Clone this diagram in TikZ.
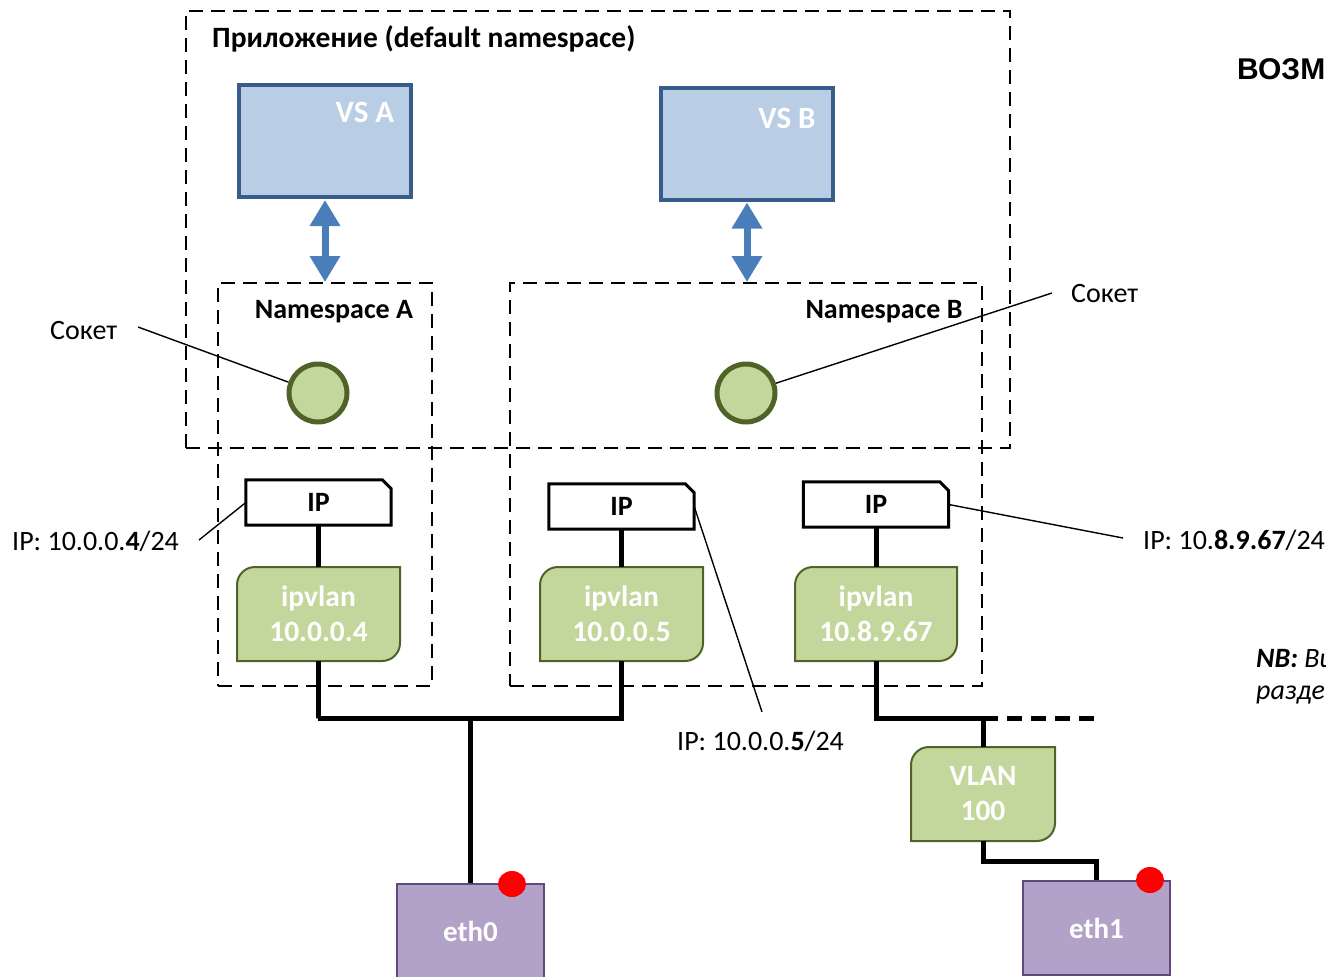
\documentclass[tikz,border=0pt]{standalone}
\usepackage{fontspec}
\setmainfont{Carlito}
\newfontfamily\arialbold{Liberation Sans}
\usetikzlibrary{arrows.meta,calc,shapes.geometric}

\definecolor{vsfill}{HTML}{B9CDE5}
\definecolor{vsedge}{HTML}{385D8A}
\definecolor{duplexblue}{HTML}{4A7EBB}
\definecolor{leaffill}{HTML}{C3D69B}
\definecolor{leafedge}{HTML}{4F6228}
\definecolor{ethfill}{HTML}{B3A2C7}
\definecolor{ethedge}{HTML}{604A7B}

\newcommand{\txt}{\fontsize{28}{34}\selectfont}

% IP box with a snipped top-right corner
\newcommand{\ipshape}[3]{%
  \node[ipbox] (#1) at (#2,#3) {IP};
  \draw[ipedge] (#1.south west) -- (#1.north west) -- ([xshift=-9pt]#1.north east)
    -- ([yshift=-9pt]#1.north east) -- (#1.south east) -- cycle;
}
% green box with rounded top-left and bottom-right corners
\newcommand{\leafshape}[6]{%
  \filldraw[leaf, shift={(#2,#3)}] (-#4,#5) -- (-#4,-#5+18)
    .. controls (-#4,-#5+8) and (-#4+8,-#5) .. (-#4+18,-#5) -- (#4,-#5) -- (#4,#5-18)
    .. controls (#4,#5-8) and (#4-8,#5) .. (#4-18,#5) -- cycle;
  \node[leaftext, minimum width=2*#4, minimum height=2*#5] (#1) at (#2,#3) {#6};
}

\tikzset{
  dashbox/.style={draw, line width=2pt, dash pattern=on 14pt off 8pt, inner sep=0pt},
  vsbox/.style={draw=vsedge, fill=vsfill, line width=4pt, minimum width=172pt, minimum height=112pt, inner sep=0pt},
  vstext/.style={text=white, font=\bfseries\fontsize{31}{36}\selectfont},
  duplex/.style={draw=duplexblue, line width=7pt,
    {Triangle[length=26pt,width=29pt]}-{Triangle[length=26pt,width=29pt]}, shorten <=1pt},
  socket/.style={circle, draw=leafedge, fill=leaffill, line width=5pt, minimum size=58pt, inner sep=0pt},
  ipbox/.style={minimum width=145pt, minimum height=45pt, inner sep=0pt, fill=white, font=\txt\bfseries},
  ipedge/.style={draw, line width=3pt, line join=miter},
  leaf/.style={draw=leafedge, fill=leaffill, line width=2pt},
  leaftext/.style={text=white, font=\bfseries\fontsize{29.5}{35}\selectfont, align=center, inner sep=0pt},
  ethbox/.style={draw=ethedge, fill=ethfill, line width=2pt, minimum width=147pt, minimum height=94pt,
    inner sep=0pt, text=white, font=\bfseries\fontsize{29}{35}\selectfont},
  led/.style={ellipse, fill=red, minimum width=28pt, minimum height=26pt, inner sep=0pt},
  wire/.style={line width=5pt},
  trunk/.style={line width=5pt, dash pattern=on 15pt off 9pt},
  leader/.style={line width=1.4pt},
  note/.style={font=\txt, inner sep=0pt},
  heading/.style={font=\txt\bfseries, inner sep=0pt},
}

\begin{document}
\begin{tikzpicture}[x=1pt, y=-1pt]
\useasboundingbox (0,0) rectangle (1326,977);
\clip (0,0) rectangle (1326,977);

% namespaces
\node[dashbox, minimum width=824pt, minimum height=437pt] (app) at (598,229.5) {};
\node[heading, anchor=west, font=\bfseries\fontsize{29.5}{35}\selectfont] (apptitle) at (212,39) {Приложение (default namespace)};
\node[dashbox, minimum width=214pt, minimum height=403pt] (nsA) at (325,484.5) {};
\node[dashbox, minimum width=472pt, minimum height=403pt] (nsB) at (746,484.5) {};
\node[heading] (nsAtitle) at (334,312) {Namespace A};
\node[heading] (nsBtitle) at (884,312) {Namespace B};

% virtual servers
\node[vsbox] (vsA) at (325,141) {};
\node[vsbox] (vsB) at (747,143.5) {};
\node[vstext] (vsAtitle) at (365,112) {VS A};
\node[vstext] (vsBtitle) at (787,118) {VS B};
\draw[duplex] (vsA.south) -- (vsA.south |- nsA.north);
\draw[duplex] (vsB.south) -- (vsB.south |- nsB.north);

% sockets
\node[socket] (sockA) at (318,393) {};
\node[socket] (sockB) at (746,393) {};
\node[note, anchor=west] (sockAlabel) at (50,331) {Сокет};
\node[note, anchor=west] (sockBlabel) at (1071,294) {Сокет};
\coordinate (sockAtag) at (138,327);
\coordinate (sockBtag) at (1052,293);
\draw[leader] (sockAtag) -- (sockA);
\draw[leader] (sockBtag) -- (sockB);

% addresses
\ipshape{ipA}{318.5}{502.5}
\ipshape{ipB}{621.5}{506.5}
\ipshape{ipC}{876}{504.5}

\leafshape{ipvA}{318.5}{614}{81.5}{47}{ipvlan\\10.0.0.4}
\leafshape{ipvB}{621.5}{614}{81.5}{47}{ipvlan\\10.0.0.5}
\leafshape{ipvC}{876}{614}{81}{47}{ipvlan\\10.8.9.67}
\leafshape{vlan}{983}{794}{72}{47}{VLAN\\100}

\draw[wire] (ipA.south) -- (ipvA.north);
\draw[wire] (ipB.south) -- (ipvB.north);
\draw[wire] (ipC.south) -- (ipvC.north);

% physical interfaces
\node[ethbox] (eth0) at (470.5,931) {eth0};
\node[ethbox] (eth1) at (1096.5,928) {eth1};
\node[led] (led0) at (512,884) {};
\node[led] (led1) at (1150,880) {};

% wiring
\coordinate (busA) at (318,718);
\coordinate (busC) at (983,718);
\coordinate (trunkEnd) at (1098,718);
\draw[wire] (ipvA.south) |- (busA) -| (ipvB.south);
\draw[wire] (eth0.north) -- (eth0.north |- busA);
\draw[wire] (ipvC.south) |- (busC) -- (vlan.north);
\draw[trunk] (busC) -- (trunkEnd);
\draw[wire] (vlan.south) -- ++(0,20) -| (eth1.north);

% address call-outs
\node[note, anchor=west] (ipAlabel) at (12,541) {IP: 10.0.0.\textbf{4}/24};
\node[note, anchor=west] (ipBlabel) at (677,741) {IP: 10.0.0.\textbf{5}/24};
\node[note, anchor=west] (ipClabel) at (1143,540) {IP: 10.\textbf{8.9.67}/24};
\coordinate (ipAtag) at (199,540);
\coordinate (ipBtag) at (762,712);
\coordinate (ipCtag) at (1123,538);
\draw[leader] (ipAtag) -- (ipA.west);
\draw[leader] (ipBtag) -- (ipB.east);
\draw[leader] (ipCtag) -- (ipC.east);

% side text
\node[anchor=west, inner sep=0pt, font=\arialbold\bfseries\fontsize{30}{36}\selectfont] (sidehead) at (1237,69) {ВОЗМ};
\node[note, anchor=west, font=\txt\itshape] (nb1) at (1256,659) {\textbf{NB:} Ви};
\node[note, anchor=west, font=\txt\itshape] (nb2) at (1256,695) {разде};
\end{tikzpicture}
\end{document}
